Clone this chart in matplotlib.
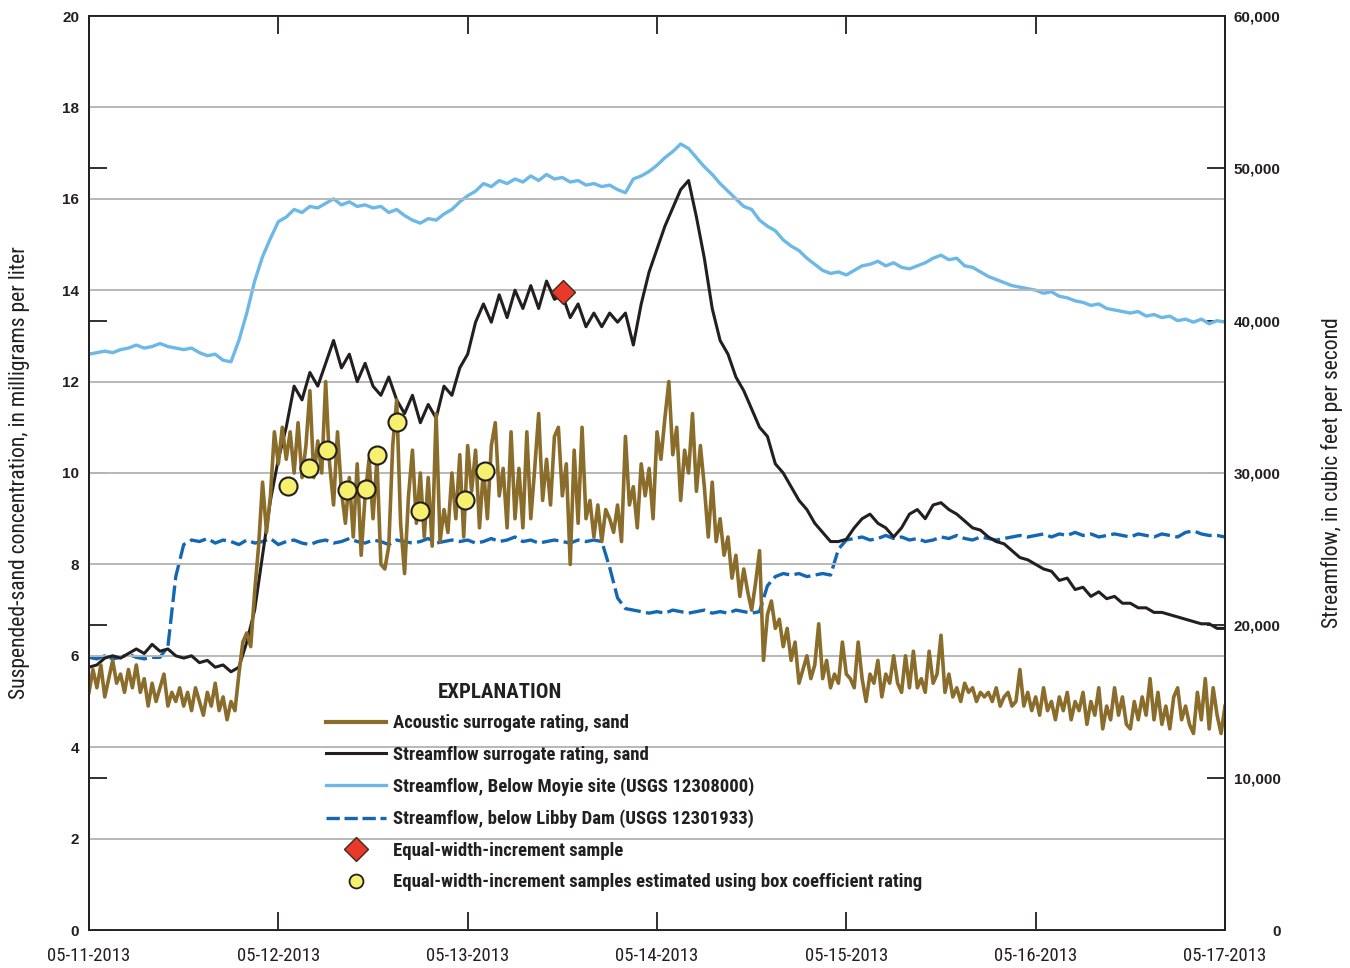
import numpy as np
import pandas as pd
import matplotlib
matplotlib.use("Agg")
import matplotlib.pyplot as plt
import matplotlib.dates as mdates
from matplotlib.lines import Line2D
from matplotlib.ticker import FuncFormatter, MultipleLocator

NARROW = ["Roboto Condensed", "DejaVu Sans"]
WIDE = ["Liberation Sans", "DejaVu Sans"]

C_ACOUSTIC = "#8a6c2b"
C_QSURR = "#231f20"
C_MOYIE = "#6cb8e6"
C_LIBBY = "#1467b3"

# time bases for the gage records
hourly = pd.date_range("2013-05-11 00:00", "2013-05-17 00:00", freq="h")
half_hourly = pd.date_range("2013-05-11 00:00", "2013-05-17 00:00", freq="30min")

# acoustic surrogate rating, sand (mg/L), every 30 minutes
acoustic_sand = [
    5.2, 5.7, 5.3, 5.8, 5.1, 5.5, 5.9, 5.4, 5.6, 5.2, 5.7, 5.3,
    5.8, 5.2, 5.5, 4.9, 5.4, 5.0, 5.3, 5.6, 4.9, 5.2, 5.0, 5.3,
    4.9, 5.2, 4.8, 5.3, 5.0, 4.7, 5.2, 4.9, 5.4, 4.8, 5.1, 4.6,
    5.0, 4.8, 5.6, 6.3, 6.5, 6.2, 7.4, 8.4, 9.8, 8.7, 9.5, 10.9,
    10.2, 11.0, 10.3, 10.9, 10.0, 11.1, 9.9, 10.6, 11.8, 9.9, 10.7, 10.0,
    12.0, 10.2, 9.3, 10.9, 9.6, 8.9, 9.9, 8.6, 10.2, 8.2, 9.5, 10.3,
    9.0, 10.3, 8.0, 7.9, 8.4, 10.6, 11.6, 8.9, 7.8, 9.5, 10.5, 8.9,
    10.0, 8.6, 9.9, 8.4, 11.3, 8.5, 9.2, 8.7, 10.0, 9.0, 10.4, 8.6,
    10.6, 9.6, 10.5, 8.8, 10.1, 9.0, 10.6, 11.1, 9.5, 10.1, 8.8, 10.9,
    9.0, 10.1, 8.8, 10.9, 9.0, 10.1, 11.3, 9.4, 10.3, 9.3, 10.8, 11.0,
    9.5, 10.2, 8.0, 10.5, 8.9, 11.0, 9.0, 9.4, 8.6, 9.3, 8.5, 9.2,
    9.0, 8.7, 9.3, 8.5, 10.8, 9.3, 9.7, 8.8, 10.2, 9.5, 10.1, 9.0,
    10.9, 10.3, 11.2, 12.0, 10.4, 11.0, 9.4, 10.5, 10.0, 11.3, 9.6, 10.6,
    9.7, 8.6, 9.8, 8.5, 9.0, 8.2, 8.6, 7.7, 8.2, 7.3, 7.9, 7.4,
    7.0, 7.6, 8.3, 5.9, 6.9, 7.2, 6.6, 6.8, 6.2, 6.6, 5.9, 6.3,
    5.4, 5.7, 6.0, 5.5, 5.8, 6.7, 5.5, 5.9, 5.3, 5.6, 5.4, 6.3,
    5.6, 5.5, 5.3, 6.3, 5.5, 5.0, 5.6, 5.4, 5.9, 5.1, 5.6, 5.4,
    6.0, 5.4, 5.2, 6.0, 5.3, 6.1, 5.3, 5.5, 5.2, 6.1, 5.4, 5.6,
    6.45, 5.2, 5.6, 5.1, 5.3, 5.0, 5.4, 5.2, 5.3, 5.0, 5.2, 5.1,
    5.2, 5.0, 5.3, 4.9, 5.1, 5.2, 4.9, 5.0, 5.7, 4.9, 5.2, 4.8,
    5.1, 4.7, 5.3, 4.8, 5.0, 4.6, 5.1, 4.8, 5.2, 4.6, 5.0, 4.8,
    5.2, 4.5, 5.0, 4.7, 5.3, 4.4, 4.9, 4.6, 5.3, 4.7, 5.1, 4.5,
    4.4, 5.0, 4.6, 5.1, 4.7, 5.5, 4.6, 5.2, 4.5, 4.9, 4.4, 5.1,
    5.3, 4.6, 4.9, 4.5, 4.3, 5.2, 4.6, 5.5, 4.4, 5.3, 4.7, 4.3,
    4.9,
]

# streamflow surrogate rating, sand (mg/L), hourly
streamflow_sand = [
    5.75, 5.8, 5.95, 6.0, 5.95, 6.05, 6.15, 6.05, 6.25, 6.1, 6.15, 6.0,
    5.95, 6.0, 5.85, 5.9, 5.75, 5.8, 5.65, 5.75, 6.3, 7.0, 8.2, 9.4,
    10.3, 11.0, 11.9, 11.6, 12.2, 11.9, 12.4, 12.9, 12.3, 12.6, 12.0, 12.4,
    11.9, 11.7, 12.1, 11.6, 11.3, 11.7, 11.1, 11.5, 11.2, 11.9, 11.7, 12.3,
    12.6, 13.3, 13.7, 13.3, 13.9, 13.4, 14.0, 13.6, 14.1, 13.6, 14.2, 13.8,
    13.9, 13.4, 13.7, 13.2, 13.5, 13.2, 13.5, 13.3, 13.5, 12.8, 13.7, 14.4,
    14.9, 15.4, 15.8, 16.2, 16.4, 15.6, 14.7, 13.6, 12.9, 12.6, 12.1, 11.8,
    11.4, 11.0, 10.8, 10.2, 10.0, 9.7, 9.4, 9.2, 8.9, 8.7, 8.5, 8.5,
    8.55, 8.8, 9.0, 9.1, 8.9, 8.8, 8.6, 8.8, 9.1, 9.2, 9.0, 9.3,
    9.35, 9.2, 9.1, 8.95, 8.8, 8.75, 8.6, 8.5, 8.45, 8.3, 8.15, 8.1,
    8.0, 7.9, 7.85, 7.65, 7.7, 7.45, 7.5, 7.3, 7.4, 7.25, 7.3, 7.15,
    7.15, 7.05, 7.05, 6.95, 6.95, 6.9, 6.85, 6.8, 6.75, 6.7, 6.7, 6.6,
    6.6,
]

# Kootenai River below Moyie site, USGS 12308000 (ft3/s), hourly
q_moyie = [
    37800, 37900, 38000, 37900, 38100, 38200, 38400, 38200, 38300, 38500, 38300, 38200,
    38100, 38200, 37900, 37700, 37800, 37400, 37300, 38700, 40500, 42600, 44200, 45400,
    46500, 46800, 47300, 47100, 47500, 47400, 47700, 48000, 47600, 47800, 47500, 47600,
    47400, 47500, 47100, 47300, 46900, 46600, 46400, 46700, 46600, 47000, 47300, 47800,
    48200, 48500, 49000, 48800, 49200, 49000, 49300, 49100, 49500, 49200, 49600, 49300,
    49400, 49100, 49200, 48900, 49000, 48800, 48900, 48600, 48400, 49300, 49500, 49800,
    50200, 50700, 51100, 51600, 51300, 50700, 50100, 49600, 49000, 48500, 48000, 47500,
    47300, 46600, 46200, 45900, 45300, 44900, 44600, 44100, 43700, 43300, 43100, 43200,
    43000, 43300, 43600, 43700, 43900, 43600, 43800, 43500, 43400, 43600, 43800, 44100,
    44300, 44000, 44100, 43600, 43500, 43200, 42900, 42700, 42500, 42300, 42200, 42100,
    42000, 41800, 41900, 41600, 41500, 41300, 41200, 41000, 41100, 40800, 40700, 40600,
    40500, 40600, 40300, 40400, 40200, 40300, 40000, 40100, 39900, 40100, 39800, 40000,
    39900,
]

# Kootenai River below Libby Dam, USGS 12301933 (ft3/s), hourly
q_libby = [
    17900, 17800, 18000, 17800, 17900, 18100, 17900, 17800, 17900, 17900, 18600, 23200,
    25300, 25600, 25500, 25700, 25400, 25600, 25500, 25300, 25600, 25400, 25500, 25700,
    25300, 25500, 25600, 25400, 25300, 25500, 25600, 25400, 25500, 25700, 25500, 25400,
    25600, 25500, 25300, 25600, 25500, 25400, 25500, 25700, 25400, 25500, 25600, 25500,
    25600, 25400, 25500, 25700, 25500, 25600, 25800, 25500, 25600, 25400, 25500, 25600,
    25500, 25400, 25600, 25500, 25600, 25500, 23800, 21800, 21100, 21000, 20900, 20800,
    20900, 20800, 21000, 20900, 20800, 20900, 21000, 20800, 20900, 20800, 21000, 20900,
    20800, 20900, 22600, 23200, 23400, 23300, 23400, 23200, 23300, 23400, 23300, 25000,
    25600, 25700, 25800, 25600, 25700, 25900, 25700, 25800, 25600, 25700, 25500, 25600,
    25800, 25700, 25900, 25700, 25600, 25800, 25700, 25600, 25700, 25800, 25900, 25800,
    25900, 26000, 25800, 26000, 25900, 26100, 25900, 26000, 25800, 25900, 26000, 25900,
    25800, 26000, 25900, 25800, 26000, 25900, 25800, 26100, 26200, 26000, 25900, 25900,
    25800,
]

# EWI sample and EWI samples estimated with the box coefficient rating
ewi_time = pd.to_datetime(["2013-05-13 12:05"])
ewi_conc = [13.95]
box_time = pd.to_datetime([
    "2013-05-12 01:10", "2013-05-12 03:50", "2013-05-12 06:10", "2013-05-12 08:40",
    "2013-05-12 11:10", "2013-05-12 12:30", "2013-05-12 15:00", "2013-05-12 18:00",
    "2013-05-12 23:40", "2013-05-13 02:10",
])
box_conc = [9.72, 10.11, 10.50, 9.63, 9.65, 10.39, 11.12, 9.17, 9.41, 10.04]

assert len(acoustic_sand) == len(half_hourly)
assert len(streamflow_sand) == len(hourly)
assert len(q_moyie) == len(hourly)
assert len(q_libby) == len(hourly)

fig = plt.figure(figsize=(13.5, 9.68), dpi=100)
ax = fig.add_axes([89 / 1350, 38 / 968, 1136 / 1350, 914 / 968])
ax2 = ax.twinx()
ax.set_zorder(ax2.get_zorder() + 1)
ax.patch.set_visible(False)

ax2.plot(hourly, q_libby, color=C_LIBBY, lw=2.4, dashes=(5, 1.6))
ax2.plot(hourly, q_moyie, color=C_MOYIE, lw=2.4)
ax.plot(hourly, streamflow_sand, color=C_QSURR, lw=2.2)
ax.plot(half_hourly, acoustic_sand, color=C_ACOUSTIC, lw=2.6)
ax.plot(ewi_time, ewi_conc, ls="none", marker="D", ms=12, mfc="#e8392a",
        mec="#3a2a20", mew=1.0, zorder=5)
ax.plot(box_time, box_conc, ls="none", marker="o", ms=13, mfc="#f7ef6e",
        mec="#231f20", mew=1.5, zorder=5)

# axes limits, ticks and grid
ax.set_xlim(pd.Timestamp("2013-05-11"), pd.Timestamp("2013-05-17"))
ax.set_ylim(0, 20)
ax2.set_ylim(0, 60000)
ax.yaxis.set_major_locator(MultipleLocator(2))
ax.grid(axis="y", color="#b8b8b8", lw=1.4)
ax.xaxis.set_major_locator(mdates.DayLocator())
ax.xaxis.set_major_formatter(mdates.DateFormatter("%m-%d-%Y"))
ax.tick_params(axis="x", direction="in", length=13, width=1.3, top=True,
               pad=12.5, labelsize=13.5, colors="#231f20")
ax.tick_params(axis="y", length=0, pad=7, labelsize=11, colors="#231f20")
ax2.yaxis.set_major_locator(MultipleLocator(10000))
ax2.yaxis.set_major_formatter(FuncFormatter(lambda v, p: f"{int(v):,}"))
ax2.tick_params(axis="y", direction="in", length=13, width=1.3, left=True,
                right=True, pad=40, labelsize=11, colors="#231f20")
for lbl in ax2.get_yticklabels():
    lbl.set_horizontalalignment("right")
for lbl in ax.get_xticklabels():
    lbl.set_family(NARROW)
for lbl in ax.get_yticklabels() + ax2.get_yticklabels():
    lbl.set_family(WIDE)
    lbl.set_fontweight("bold")

for a in (ax, ax2):
    for s in a.spines.values():
        s.set_linewidth(1.3)
        s.set_color("#231f20")

ax.set_ylabel("Suspended-sand concentration, in milligrams per liter",
              family=NARROW, fontsize=15.6, color="#231f20")
ax.yaxis.set_label_coords(-0.0515, 0.5)
ax2.set_ylabel("Streamflow, in cubic feet per second",
               family=NARROW, fontsize=15.6, color="#231f20")
ax2.yaxis.set_label_coords(1.0845, 0.5)

# explanation
handles = [
    Line2D([], [], color=C_ACOUSTIC, lw=3),
    Line2D([], [], color=C_QSURR, lw=2.2),
    Line2D([], [], color=C_MOYIE, lw=2.4),
    Line2D([], [], color=C_LIBBY, lw=2.4, dashes=(4, 1.4)),
    Line2D([], [], ls="none", marker="D", ms=12, mfc="#e8392a", mec="#3a2a20", mew=1.0),
    Line2D([], [], ls="none", marker="o", ms=10, mfc="#f7ef6e", mec="#231f20", mew=1.3),
]
labels = [
    "Acoustic surrogate rating, sand",
    "Streamflow surrogate rating, sand",
    "Streamflow, Below Moyie site (USGS 12308000)",
    "Streamflow, below Libby Dam (USGS 12301933)",
    "Equal-width-increment sample",
    "Equal-width-increment samples estimated using box coefficient rating",
]
leg = ax.legend(handles, labels, loc="upper left", bbox_to_anchor=(0.2085, 0.2361),
                frameon=False, borderpad=0, borderaxespad=0, handlelength=3.2,
                handletextpad=0.4, labelspacing=0.72,
                prop={"family": NARROW, "weight": "bold", "size": 13.5})
for t in leg.get_texts():
    t.set_color("#231f20")
ax.text(0.3618, 0.2593, "EXPLANATION", transform=ax.transAxes, ha="center",
        va="center", family=NARROW, fontweight="bold", fontsize=15, color="#231f20")

fig.savefig("out.png", dpi=100)
